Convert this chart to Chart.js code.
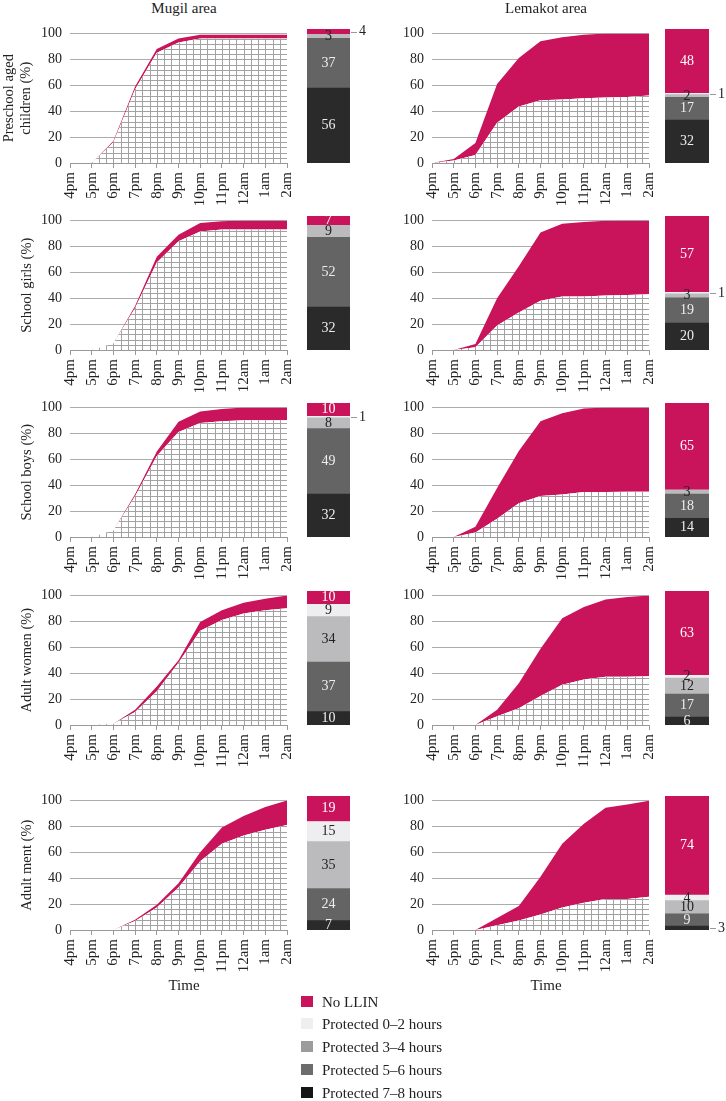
<!DOCTYPE html>
<html>
<head>
<meta charset="utf-8">
<script src="https://cdn.jsdelivr.net/npm/chart.js@4.4.1/dist/chart.umd.min.js"></script>
<style>
  body { margin: 0; width: 726px; height: 1101px; position: relative; overflow: hidden; background: #fff;
         font-family: "Liberation Serif", "DejaVu Serif", serif; color: #222; }
  canvas { position: absolute; }
  .txt { position: absolute; white-space: nowrap; }
  .sw { position: absolute; width: 12px; height: 11px; }
</style>
</head>
<body>
<script>
// x axis (hours of the evening / night)
const timeLabels = ["4pm", "5pm", "6pm", "7pm", "8pm", "9pm", "10pm", "11pm", "12am", "1am", "2am"];
const areaNames = ["Mugil area", "Lemakot area"];
const yTitles = [["Preschool aged", "children (%)"], "School girls (%)", "School boys (%)", "Adult women (%)", "Adult ment (%)"];
// bar segments, bottom to top
const bandNames = ["Protected 7–8 hours", "Protected 5–6 hours", "Protected 3–4 hours", "Protected 0–2 hours", "No LLIN"];
const legendNames = ["No LLIN", "Protected 0–2 hours", "Protected 3–4 hours", "Protected 5–6 hours", "Protected 7–8 hours"];

// cumulative % in bed (upper line) and % under a net (lower line)
const mugilPreschoolBed = [0, 0, 17, 59, 88, 96, 99, 99, 99, 99, 99];
const mugilPreschoolNet = [0, 0, 16, 57, 85, 93, 96, 96, 96, 96, 96];
const mugilGirlsBed = [0, 0, 5, 34, 72, 89, 98, 99.3, 100, 100, 100];
const mugilGirlsNet = [0, 0, 5, 32.5, 67.5, 84, 91.5, 93, 93, 93, 93];
const mugilBoysBed = [0, 0, 5, 33, 66, 89, 96.8, 98.8, 100, 100, 100];
const mugilBoysNet = [0, 0, 5, 31.5, 62.5, 81, 88, 89.3, 90, 90, 90];
const mugilWomenBed = [0, 0, 1, 11.7, 29.8, 50, 79.4, 88.6, 94.3, 97.5, 100];
const mugilWomenNet = [0, 0, 1, 10, 26, 48, 72.7, 81, 86, 88.6, 90];
const mugilMenBed = [0, 0, 0, 8, 19.4, 36, 60, 79, 88, 95, 100];
const mugilMenNet = [0, 0, 0, 7, 17.4, 32.8, 53, 66.5, 73, 77.4, 81];

const lemakotPreschoolBed = [0, 3, 15.4, 61, 81, 94, 97, 99, 100, 100, 100];
const lemakotPreschoolNet = [0, 2, 6.2, 31, 43.5, 48.5, 49, 50, 50.5, 51, 52];
const lemakotGirlsBed = [0, 0, 4.7, 40, 64.7, 90.6, 97.5, 98.8, 99.8, 100, 100];
const lemakotGirlsNet = [0, 0, 2.2, 19, 29, 38, 41.2, 41.2, 42, 42.5, 43];
const lemakotBoysBed = [0, 0, 8, 37.8, 66.4, 89.3, 95.5, 99.2, 100, 100, 100];
const lemakotBoysNet = [0, 0, 3.5, 14, 26, 31.6, 32.8, 34.8, 34.8, 35, 35];
const lemakotWomenBed = [0, 0, 0, 11.7, 32.3, 58.8, 82.4, 91, 96.8, 98.8, 100];
const lemakotWomenNet = [0, 0, 0, 6.7, 13, 22.3, 31, 35.2, 37.2, 37.2, 37.7];
const lemakotMenBed = [0, 0, 0, 9.2, 18.6, 41, 66.5, 82, 94.3, 96.8, 99.8];
const lemakotMenNet = [0, 0, 0, 3.7, 7.4, 12, 17.4, 21, 24, 24, 25.6];

// stacked bars: [7-8h, 5-6h, 3-4h, 0-2h, no LLIN]
const mugilPreschoolBar = [56, 37, 3, 0, 4];
const mugilGirlsBar = [32, 52, 9, 0, 7];
const mugilBoysBar = [32, 49, 8, 1, 10];
const mugilWomenBar = [10, 37, 34, 9, 10];
const mugilMenBar = [7, 24, 35, 15, 19];
const lemakotPreschoolBar = [32, 17, 2, 1, 48];
const lemakotGirlsBar = [20, 19, 3, 1, 57];
const lemakotBoysBar = [14, 18, 3, 0, 65];
const lemakotWomenBar = [6, 17, 12, 2, 63];
const lemakotMenBar = [3, 9, 10, 4, 74];

// which segment label sits outside the bar (-1 = none)
const mugilOutside = [4, -1, 3, -1, -1];
const lemakotOutside = [3, 3, -1, -1, 0];

const MAGENTA = "#c9145b";
const barColors = ["#2a2a2a", "#646464", "#bbbbbd", "#eeeef0", MAGENTA];
const barTextColors = ["#eeeeee", "#eeeeee", "#222222", "#222222", "#ffffff"];
const legendColors = [MAGENTA, "#eeeff1", "#9c9c9c", "#6c6c6c", "#151515"];
const FONT = '"Liberation Serif", "DejaVu Serif", serif';

const panels = [
  [[mugilPreschoolBed, mugilPreschoolNet, mugilPreschoolBar], [mugilGirlsBed, mugilGirlsNet, mugilGirlsBar],
   [mugilBoysBed, mugilBoysNet, mugilBoysBar], [mugilWomenBed, mugilWomenNet, mugilWomenBar],
   [mugilMenBed, mugilMenNet, mugilMenBar]],
  [[lemakotPreschoolBed, lemakotPreschoolNet, lemakotPreschoolBar], [lemakotGirlsBed, lemakotGirlsNet, lemakotGirlsBar],
   [lemakotBoysBed, lemakotBoysNet, lemakotBoysBar], [lemakotWomenBed, lemakotWomenNet, lemakotWomenBar],
   [lemakotMenBed, lemakotMenNet, lemakotMenBar]]
];
const outside = [mugilOutside, lemakotOutside];

// layout
const cols = [
  { canvasLeft: 0, plotLeft: 70, plotRight: 298, barLeft: 307, barRight: 350 },
  { canvasLeft: 363, plotLeft: 432, plotRight: 660, barLeft: 665, barRight: 709 }
];
const rowTops = [29, 216, 403, 591, 796];
const PAD_T = 12, PLOT_H = 134, AX_H = 46;

// grid hatching under the "protected" line
const hatchPlugin = {
  id: "hatch",
  afterDatasetDraw(chart, args) {
    if (args.index !== 0) return;
    const pts = args.meta.data;
    const { ctx, chartArea: a, scales: { x, y } } = chart;
    const base = y.getPixelForValue(0);
    ctx.save();
    ctx.beginPath();
    ctx.moveTo(pts[0].x, base);
    pts.forEach(p => ctx.lineTo(p.x, p.y));
    ctx.lineTo(pts[pts.length - 1].x, base);
    ctx.closePath();
    ctx.clip();
    ctx.strokeStyle = "#a2a2a2";
    ctx.lineWidth = 1;
    ctx.beginPath();
    for (let i = 0; i <= 30; i++) {
      const px = Math.round(x.getPixelForDecimal(i / 30)) + 0.5;
      ctx.moveTo(px, a.top); ctx.lineTo(px, a.bottom);
    }
    for (let v = 0; v <= 100; v += 4) {
      const py = Math.round(y.getPixelForValue(v)) + 0.5;
      ctx.moveTo(a.left, py); ctx.lineTo(a.right, py);
    }
    ctx.stroke();
    ctx.restore();
  }
};

function barLabels(outIdx) {
  return {
    id: "barLabels",
    afterDatasetsDraw(chart) {
      const ctx = chart.ctx;
      ctx.save();
      ctx.font = "14px " + FONT;
      ctx.textBaseline = "middle";
      chart.data.datasets.forEach((ds, i) => {
        const v = ds.data[0];
        if (!v) return;
        const el = chart.getDatasetMeta(i).data[0];
        const cy = (el.y + el.base) / 2;
        if (i === outIdx) {
          const right = el.x + el.width / 2;
          ctx.strokeStyle = "#999"; ctx.lineWidth = 1;
          ctx.beginPath(); ctx.moveTo(right + 1, Math.round(cy) + 0.5); ctx.lineTo(right + 7, Math.round(cy) + 0.5); ctx.stroke();
          ctx.fillStyle = "#222"; ctx.textAlign = "left";
          ctx.fillText(String(v), right + 9, cy);
        } else {
          ctx.fillStyle = barTextColors[i]; ctx.textAlign = "center";
          ctx.fillText(String(v), el.x, cy);
        }
      });
      ctx.restore();
    }
  };
}

function addCanvas(left, top, w, h) {
  const c = document.createElement("canvas");
  c.width = w; c.height = h;
  c.style.left = left + "px"; c.style.top = top + "px";
  c.style.width = w + "px"; c.style.height = h + "px";
  document.body.appendChild(c);
  return c;
}

function addText(text, left, top, size, extra) {
  const d = document.createElement("div");
  d.className = "txt";
  d.textContent = text;
  d.style.left = left + "px"; d.style.top = top + "px";
  d.style.fontSize = size + "px";
  d.style.lineHeight = "18px";
  if (extra) Object.assign(d.style, extra);
  document.body.appendChild(d);
  return d;
}

panels.forEach((colPanels, c) => {
  const col = cols[c];
  colPanels.forEach(([bed, net, bar], r) => {
    const top = rowTops[r] - PAD_T;
    const h = PAD_T + PLOT_H + AX_H;
    const yW = col.plotLeft - col.canvasLeft;
    const title = c === 0 ? yTitles[r] : "";
    const areaCanvas = addCanvas(col.canvasLeft, top, col.plotRight + 11 - col.canvasLeft, h);
    new Chart(areaCanvas, {
      type: "line",
      data: {
        labels: timeLabels,
        datasets: [
          { label: "Protected", data: net, fill: "origin", backgroundColor: "#ffffff",
            borderWidth: 0, borderColor: "transparent", pointRadius: 0, tension: 0 },
          { label: "No LLIN", data: bed, fill: "-1", backgroundColor: MAGENTA,
            borderWidth: 0, borderColor: "transparent", pointRadius: 0, tension: 0 }
        ]
      },
      options: {
        responsive: false, animation: false, events: [],
        layout: { padding: { top: PAD_T, right: 11, left: 0, bottom: 0 } },
        plugins: { legend: { display: false }, tooltip: { enabled: false } },
        scales: {
          x: {
            grid: { drawOnChartArea: false, drawTicks: true, tickLength: 5, color: "#999" },
            border: { color: "#999" },
            ticks: { autoSkip: false, minRotation: 90, maxRotation: 90, padding: 4,
                     font: { family: FONT, size: 15 }, color: "#222" },
            afterFit: s => { s.height = AX_H; }
          },
          y: {
            min: 0, max: 100,
            ticks: { stepSize: 20, padding: 8, font: { family: FONT, size: 14 }, color: "#222" },
            grid: { color: "#acacac", drawTicks: false },
            border: { display: false },
            title: { display: !!title, text: title, color: "#222",
                     padding: { top: Array.isArray(title) ? 0 : 18, bottom: 0 },
                     font: { family: FONT, size: 14.5 } },
            afterFit: s => { s.width = yW; }
          }
        }
      },
      plugins: [hatchPlugin]
    });

    const barW = col.barRight - col.barLeft;
    const barCanvas = addCanvas(col.barLeft, top, barW + 18, h);
    new Chart(barCanvas, {
      type: "bar",
      data: {
        labels: [""],
        datasets: bandNames.map((n, i) => ({
          label: n, data: [bar[i]], backgroundColor: barColors[i],
          barPercentage: 1, categoryPercentage: 1, borderWidth: 0
        }))
      },
      options: {
        responsive: false, animation: false, events: [],
        layout: { padding: { top: PAD_T, right: 18, left: 0, bottom: AX_H } },
        plugins: { legend: { display: false }, tooltip: { enabled: false } },
        scales: {
          x: { display: false, stacked: true },
          y: { display: false, stacked: true, min: 0, max: 100 }
        }
      },
      plugins: [barLabels(outside[c][r])]
    });
  });

  const mid = (col.plotLeft + col.plotRight) / 2;
  addText(areaNames[c], mid - 60, -1, 15, { width: "120px", textAlign: "center" });
  addText("Time", mid - 40, 976, 15, { width: "80px", textAlign: "center" });
});

// legend
legendNames.forEach((n, i) => {
  const cy = 1001.5 + i * 22.8;
  const sw = document.createElement("div");
  sw.className = "sw";
  sw.style.left = "301px"; sw.style.top = (cy - 6) + "px";
  sw.style.background = legendColors[i];
  document.body.appendChild(sw);
  addText(n, 322, cy - 9, 15);
});
</script>
</body>
</html>
